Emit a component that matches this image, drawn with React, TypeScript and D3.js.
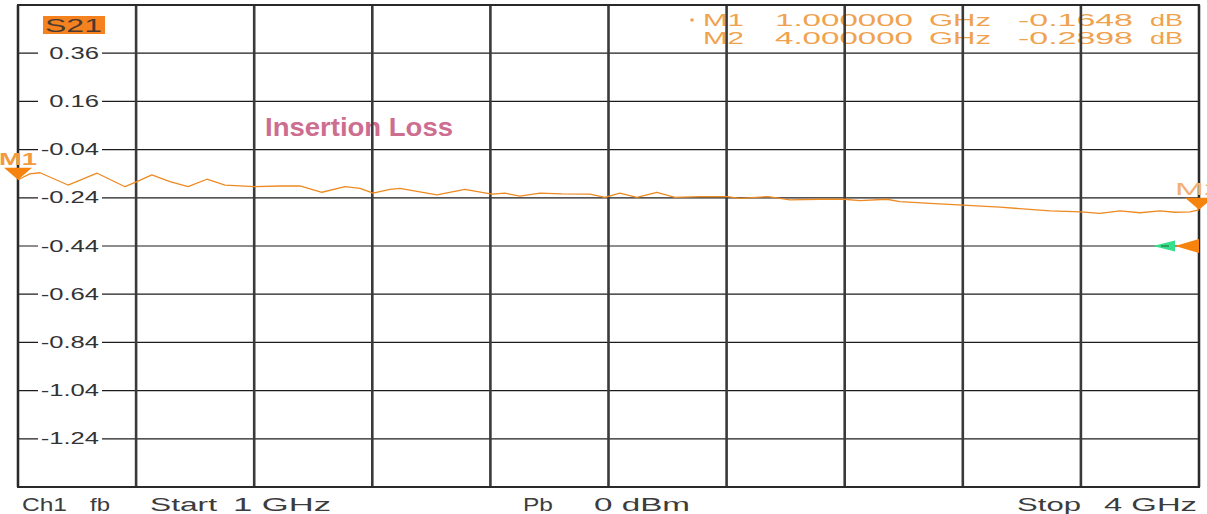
import React from "react";
import * as d3 from "d3";

// sweep settings (GHz) and display range (dB)
const startGHz = 1;
const stopGHz = 4;
const topDb = 0.56;
const dbPerDiv = 0.2;

// S21 trace
const freqGHz = [
  1.0, 1.03, 1.056, 1.127, 1.201, 1.272, 1.302, 1.34, 1.386, 1.432, 1.48, 1.526, 1.602, 1.666,
  1.716, 1.772, 1.831, 1.869, 1.902, 1.945, 1.97, 2.064, 2.135, 2.204, 2.237, 2.275, 2.326, 2.382,
  2.453, 2.491, 2.529, 2.572, 2.623, 2.669, 2.732, 2.801, 2.834, 2.905, 2.961, 3.037, 3.098, 3.139,
  3.207, 3.24, 3.317, 3.4, 3.494, 3.622, 3.7, 3.748, 3.799, 3.85, 3.901, 3.939, 3.977, 4.0,
];
const lossDb = [
  -0.165, -0.141, -0.136, -0.187, -0.138, -0.194, -0.173, -0.145, -0.173, -0.194, -0.163, -0.187,
  -0.194, -0.191, -0.191, -0.217, -0.194, -0.201, -0.221, -0.205, -0.201, -0.228, -0.205, -0.225,
  -0.221, -0.233, -0.221, -0.224, -0.225, -0.238, -0.221, -0.238, -0.217, -0.238, -0.235, -0.235,
  -0.242, -0.235, -0.249, -0.246, -0.246, -0.252, -0.246, -0.256, -0.263, -0.27, -0.279, -0.294,
  -0.298, -0.305, -0.294, -0.302, -0.294, -0.3, -0.298, -0.29,
];

const yTickLabels = ["0.36", "0.16", "-0.04", "-0.24", "-0.44", "-0.64", "-0.84", "-1.04", "-1.24"];

const markerNames = ["M1", "M2"];
const markerGHz = [1.0, 4.0];
const markerDb = [-0.1648, -0.2898];
const markerFreqText = ["1.000000", "4.000000"];
const markerDbText = ["-0.1648", "-0.2898"];

const refLevelDb = -0.44;

const W = 1207;
const H = 514;
const left = 18;
const right = 1199;
const top = 5;
const bottom = 487;

const font = "'Liberation Sans', Arial, sans-serif";
const traceColor = "#ee8a22";
const markerColor = "#f7830f";
const readoutColor = "#f0a24e";

function App() {
  const x = d3.scaleLinear().domain([startGHz, stopGHz]).range([left, right]);
  const y = d3
    .scaleLinear()
    .domain([topDb - 10 * dbPerDiv, topDb])
    .range([bottom, top]);

  const vLines = d3.range(11).map((i) => startGHz + (i * (stopGHz - startGHz)) / 10);
  const hLines = d3.range(11).map((i) => topDb - i * dbPerDiv);

  const line = d3
    .line<number>()
    .x((_, i) => x(freqGHz[i]))
    .y((d) => y(d));

  const ry = y(refLevelDb);

  // bottom status line: [text, x, width]
  const footer: [string, number, number][] = [
    ["Ch1", 22, 45],
    ["fb", 90, 20],
    ["Start", 150, 67],
    ["1 GHz", 233, 98],
    ["Pb", 523, 30],
    ["0 dBm", 594, 96],
    ["Stop", 1017, 64],
    ["4 GHz", 1104, 93],
  ];

  return (
    <div style={{ position: "absolute", left: 0, top: 0 }}>
      <svg width={W} height={H} style={{ display: "block", background: "#fff" }}>
        {/* marker readout, grid shows through it */}
        {markerNames.map((m, i) => {
          const by = 26 + i * 18;
          const t = { fontFamily: font, fontSize: 17, fill: readoutColor, lengthAdjust: "spacingAndGlyphs" } as any;
          return (
            <g key={m}>
              {i === 0 && <circle cx={692} cy={by - 6} r={1.8} fill={readoutColor} />}
              <text x={703} y={by} textLength={41} {...t}>{m}</text>
              <text x={775} y={by} textLength={138} {...t}>{markerFreqText[i]}</text>
              <text x={929} y={by} textLength={62} {...t}>GHz</text>
              <text x={1018} y={by} textLength={115} {...t}>{markerDbText[i]}</text>
              <text x={1150} y={by} textLength={33} {...t}>dB</text>
            </g>
          );
        })}

        <text
          x={265}
          y={136}
          textLength={188}
          lengthAdjust="spacingAndGlyphs"
          fontFamily={font}
          fontWeight="bold"
          fontSize={25}
          fill="#cd6d8f"
        >
          Insertion Loss
        </text>

        {/* grid */}
        {hLines.map((v, i) => (
          <line key={"h" + i} x1={left} x2={right} y1={y(v)} y2={y(v)} stroke="#1c1c1c" strokeWidth={1.2} />
        ))}
        {vLines.map((f, i) => (
          <line key={"v" + i} x1={x(f)} x2={x(f)} y1={top} y2={bottom} stroke="#3a3a3a" strokeWidth={2.6} />
        ))}
        <rect x={left} y={top} width={right - left} height={bottom - top} fill="none" stroke="#2a2a2a" strokeWidth={2} />

        {/* y labels */}
        {yTickLabels.map((s) => {
          const gy = y(+s);
          return (
            <g key={s}>
              <rect x={38} y={gy - 8} width={64} height={16} fill="#fff" />
              <text
                transform={`translate(99,${gy + 5.6}) scale(1.6,1)`}
                textAnchor="end"
                fontFamily={font}
                fontSize={16}
                fill="#333"
              >
                {s}
              </text>
            </g>
          );
        })}

        {/* trace name */}
        <rect x={43} y={16} width={62} height={18} fill="#f5821f" />
        <text x={45} y={32} textLength={57} lengthAdjust="spacingAndGlyphs" fontFamily={font} fontSize={18} fill="#4a3a30">
          S21
        </text>

        <path d={line(lossDb) ?? ""} fill="none" stroke={traceColor} strokeWidth={1.3} strokeLinejoin="round" />

        {/* markers */}
        {markerNames.map((m, i) => {
          const mx = x(markerGHz[i]);
          const my = y(markerDb[i]);
          return (
            <g key={"mk" + m}>
              <path d={`M${mx - 14},${my - 12}L${mx + 14},${my - 12}L${mx},${my}Z`} fill={markerColor} />
              <text
                x={mx - (i === 0 ? 19 : 24)}
                y={my - 15}
                textLength={i === 0 ? 38 : 48}
                lengthAdjust="spacingAndGlyphs"
                fontFamily={font}
                fontWeight={i === 0 ? "bold" : "normal"}
                fontSize={17}
                fill={i === 0 ? "#f39a3e" : "#f3b070"}
              >
                {m}
              </text>
            </g>
          );
        })}

        {/* reference level arrows */}
        <path d={`M${right},${ry - 7}L${right},${ry + 7}L${right - 24},${ry}Z`} fill={markerColor} />
        <path d={`M${right - 24},${ry - 5.5}L${right - 24},${ry + 5.5}L${right - 46},${ry}Z`} fill="#34e08a" />
        <line x1={right - 38} x2={right - 30} y1={ry} y2={ry} stroke="#2a5a3a" strokeWidth={1} />

        {/* status line */}
        {footer.map(([t, fx, w]) => (
          <text
            key={t}
            x={fx}
            y={511}
            textLength={w}
            lengthAdjust="spacingAndGlyphs"
            fontFamily={font}
            fontSize={19}
            fill="#3c3c3c"
          >
            {t}
          </text>
        ))}
      </svg>
    </div>
  );
}

export default App;
